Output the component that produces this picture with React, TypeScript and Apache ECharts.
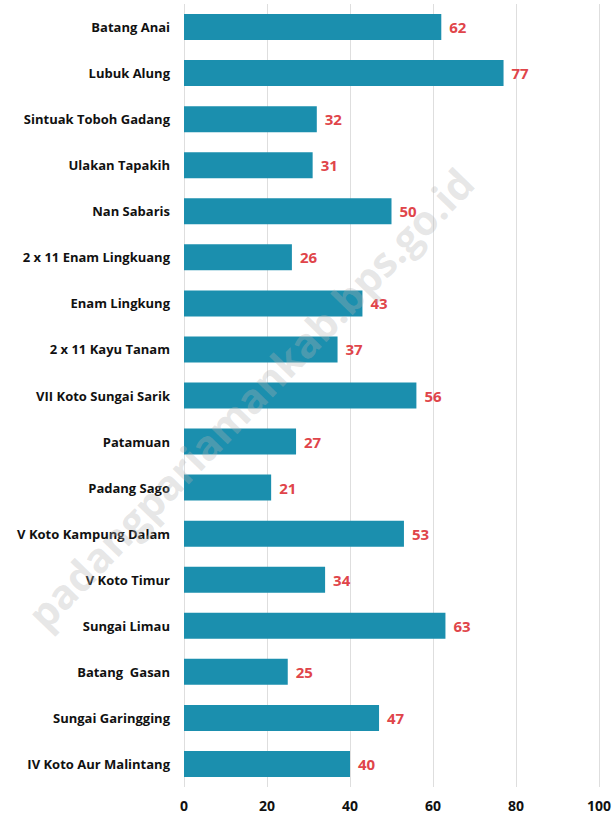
import React, { useEffect, useRef } from "react";
import * as echarts from "echarts";

const categories = [
  "Batang Anai",
  "Lubuk Alung",
  "Sintuak Toboh Gadang",
  "Ulakan Tapakih",
  "Nan Sabaris",
  "2 x 11 Enam Lingkuang",
  "Enam Lingkung",
  "2 x 11 Kayu Tanam",
  "VII Koto Sungai Sarik",
  "Patamuan",
  "Padang Sago",
  "V Koto Kampung Dalam",
  "V Koto Timur",
  "Sungai Limau",
  "Batang  Gasan",
  "Sungai Garingging",
  "IV Koto Aur Malintang",
];
const values = [62, 77, 32, 31, 50, 26, 43, 37, 56, 27, 21, 53, 34, 63, 25, 47, 40];
const watermark = "padangpariamankab.bps.go.id";

export default function App() {
  const ref = useRef<HTMLDivElement>(null);
  useEffect(() => {
    if (!ref.current) return;
    const chart = echarts.init(ref.current, undefined, { renderer: "svg" });
    chart.setOption({
      animation: false,
      grid: { left: 184, right: 12, top: 4, bottom: 30, containLabel: false },
      xAxis: {
        type: "value",
        min: 0,
        max: 100,
        interval: 20,
        axisLine: { show: false },
        axisTick: { show: false },
        splitLine: { show: true, lineStyle: { color: "#dedede", width: 1 } },
        axisLabel: {
          color: "#111",
          fontWeight: "bold",
          fontSize: 14,
          fontFamily: "Open Sans",
          margin: 11,
        },
      },
      yAxis: {
        type: "category",
        data: categories,
        inverse: true,
        axisLine: { show: false },
        axisTick: { show: false },
        axisLabel: {
          color: "#111",
          fontWeight: "bold",
          fontSize: 13,
          fontFamily: "Open Sans",
          margin: 14,
        },
      },
      series: [
        {
          type: "bar",
          data: values,
          barWidth: 26,
          itemStyle: { color: "#1b8fae" },
          label: {
            show: true,
            position: "right",
            distance: 8,
            color: "#e0454a",
            fontWeight: "bold",
            fontSize: 15,
            fontFamily: "Open Sans",
          },
        },
      ],
      graphic: [
        {
          type: "text",
          x: 250,
          y: 398,
          rotation: (46 * Math.PI) / 180,
          z: 100,
          style: {
            text: watermark,
            fontSize: 41,
            fontWeight: "bold",
            fontFamily: "Open Sans",
            fill: "rgba(180,180,180,0.32)",
            align: "center",
            verticalAlign: "middle",
          },
        },
      ],
    });
    return () => chart.dispose();
  }, []);
  return <div ref={ref} style={{ width: 614, height: 817, position: "absolute", left: 0, top: 0 }} />;
}
